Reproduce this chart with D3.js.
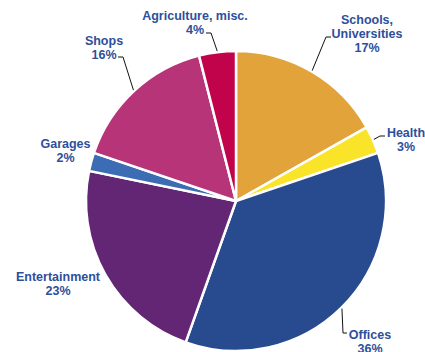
<!DOCTYPE html>
<html>
<head>
<meta charset="utf-8">
<script src="https://cdn.jsdelivr.net/npm/d3@7"></script>
<style>
  html, body { margin: 0; padding: 0; background: #ffffff; }
  svg { display: block; }
  .lbl { font-family: "Liberation Sans", Arial, sans-serif; font-weight: bold; font-size: 12.5px; fill: #2E4F9B; }
</style>
</head>
<body>
<svg id="chart" width="425" height="352"></svg>
<script>
// Share of energy use by building type (percent), clockwise from 12 o'clock
const categories = ["Schools,\nUniversities", "Health", "Offices", "Entertainment", "Garages", "Shops", "Agriculture, misc."];
const shares = [17, 3, 36, 23, 2, 16, 4];
const colors = ["#E3A33B", "#F9E42A", "#284B8F", "#622675", "#3C6DB4", "#B73479", "#C0034B"];

const W = 425, H = 352;
const cx = 236, cy = 201, R = 150;

const svg = d3.select("#chart");
const g = svg.append("g").attr("transform", `translate(${cx},${cy})`);

const data = categories.map((c, i) => ({ name: c, value: shares[i], color: colors[i] }));

const pie = d3.pie().sort(null).value(d => d.value).startAngle(0).endAngle(2 * Math.PI);
const arc = d3.arc().innerRadius(0).outerRadius(R);
const arcs = pie(data);

g.selectAll("path.slice")
  .data(arcs)
  .join("path")
  .attr("class", "slice")
  .attr("d", arc)
  .attr("fill", d => d.data.color)
  .attr("stroke", "#ffffff")
  .attr("stroke-width", 2.5)
  .attr("stroke-linejoin", "round");

// Label placement: text centre x, first baseline y, and optional leader elbow
const layout = [
  { x: 367, y: 24, elbow: [[326, 37], [331, 37]] },
  { x: 406, y: 137, elbow: [[380, 136], [385, 136]] },
  { x: 370, y: 339, elbow: [[343, 333], [347, 333]] },
  { x: 58, y: 281, elbow: null },
  { x: 65.5, y: 148, elbow: null },
  { x: 104, y: 45, elbow: [[123, 57], [118, 57]] },
  { x: 195, y: 20, elbow: [[211, 33], [206, 33]] }
];

const lineH = 13.8;

arcs.forEach((a, i) => {
  const L = layout[i];
  const mid = (a.startAngle + a.endAngle) / 2;
  if (L.elbow) {
    const sx = cx + Math.sin(mid) * (R + 1);
    const sy = cy - Math.cos(mid) * (R + 1);
    const pts = [[sx, sy], ...L.elbow];
    svg.append("path")
      .attr("d", d3.line()(pts))
      .attr("fill", "none")
      .attr("stroke", "#111111")
      .attr("stroke-width", 1);
  }
  const lines = a.data.name.split("\n").concat([a.data.value + "%"]);
  const t = svg.append("text")
    .attr("class", "lbl")
    .attr("text-anchor", "middle");
  lines.forEach((s, k) => {
    t.append("tspan")
      .attr("x", L.x)
      .attr("y", L.y + k * lineH)
      .text(s);
  });
});
</script>
</body>
</html>
